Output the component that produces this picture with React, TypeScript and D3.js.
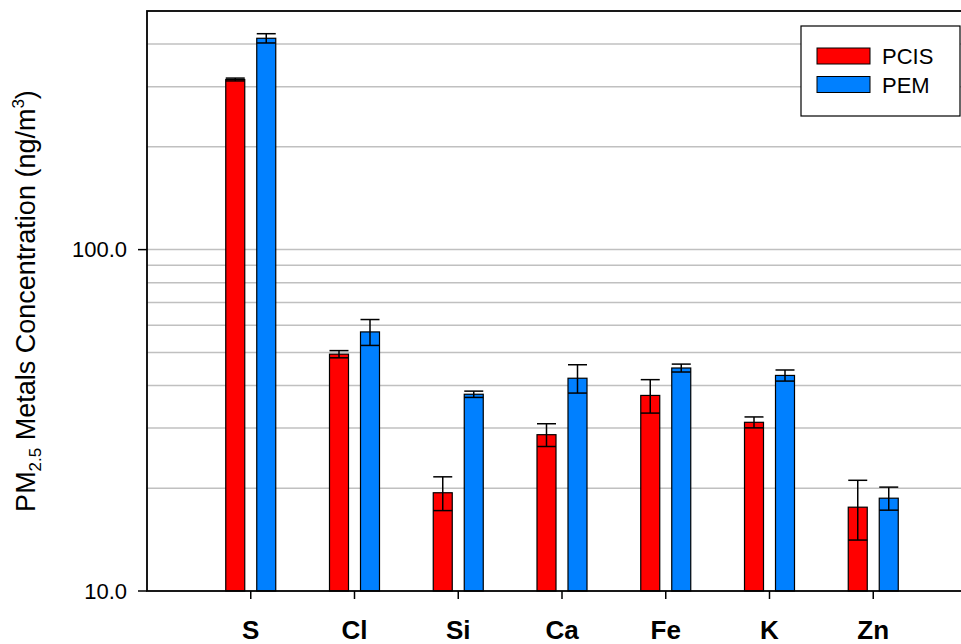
import React from "react";
import * as d3 from "d3";

const categories = ["S", "Cl", "Si", "Ca", "Fe", "K", "Zn"];
const seriesNames = ["PCIS", "PEM"];
const pcisValues = [315, 49.4, 19.4, 28.7, 37.4, 31.2, 17.6];
const pcisErrors = [3, 1.2, 2.2, 2.2, 4.2, 1.15, 3.5];
const pemValues = [416, 57.4, 37.7, 42.0, 45.0, 42.8, 18.7];
const pemErrors = [13, 5, 0.8, 4, 1.2, 1.6, 1.45];
const yTickValues = [10, 100];
const gridValues = [20, 30, 40, 50, 60, 70, 80, 90, 100, 200, 300, 400];
const colors = ["#ff0000", "#0080ff"];

const W = 961;
const H = 644;
const left = 147;
const right = 977;
const top = 11;
const bottom = 591;

export default function App() {
  const y = d3.scaleLog().domain([10, 500]).range([bottom, top]);
  const x = d3.scaleLinear().domain([0, categories.length + 1]).range([left, right]);
  const barW = 19;
  const offset = 15.5;
  const font = "'Liberation Sans', Arial, sans-serif";
  const series = [
    { name: seriesNames[0], values: pcisValues, errors: pcisErrors, color: colors[0], dx: -offset },
    { name: seriesNames[1], values: pemValues, errors: pemErrors, color: colors[1], dx: offset },
  ];
  return (
    <svg width={W} height={H} style={{ position: "absolute", left: 0, top: 0 }} fontFamily={font}>
      <rect width={W} height={H} fill="white" />
      {gridValues.map((g) => (
        <line key={g} x1={left} x2={right} y1={y(g)} y2={y(g)} stroke="#c0c0c0" strokeWidth={1.5} />
      ))}
      {series.map((s) =>
        categories.map((c, i) => {
          const cx = x(i + 1) + s.dx;
          const v = s.values[i];
          const e = s.errors[i];
          return (
            <g key={s.name + c}>
              <rect x={cx - barW / 2} y={y(v)} width={barW} height={bottom - y(v)} fill={s.color} stroke="#000" strokeWidth={1.2} />
              <line x1={cx} x2={cx} y1={y(v + e)} y2={y(v - e)} stroke="#000" strokeWidth={1.5} />
              <line x1={cx - 9.5} x2={cx + 9.5} y1={y(v + e)} y2={y(v + e)} stroke="#000" strokeWidth={1.5} />
              <line x1={cx - 9.5} x2={cx + 9.5} y1={y(v - e)} y2={y(v - e)} stroke="#000" strokeWidth={1.5} />
            </g>
          );
        })
      )}
      {/* frame */}
      <rect x={left} y={top} width={right - left} height={bottom - top} fill="none" stroke="#000" strokeWidth={1.8} />
      {/* y ticks */}
      {yTickValues.map((t) => (
        <g key={t}>
          <line x1={left - 9} x2={left} y1={y(t)} y2={y(t)} stroke="#000" strokeWidth={1.5} />
          <text x={127} y={y(t) + 7.8} textAnchor="end" fontSize={22} fill="#000">
            {t.toFixed(1)}
          </text>
        </g>
      ))}
      {/* x ticks and labels */}
      {categories.map((c, i) => (
        <g key={c}>
          <line x1={x(i + 1)} x2={x(i + 1)} y1={bottom} y2={bottom + 8} stroke="#000" strokeWidth={1.5} />
          <text x={x(i + 1)} y={639} textAnchor="middle" fontSize={26} fontWeight="bold" fill="#000">
            {c}
          </text>
        </g>
      ))}
      {/* y label */}
      <text transform="translate(35,301) rotate(-90)" textAnchor="middle" fontSize={27} fill="#000">
        PM<tspan fontSize={17} dy={6}>2.5</tspan>
        <tspan dy={-6}> Metals Concentration (ng/m</tspan>
        <tspan fontSize={17} dy={-11}>3</tspan>
        <tspan dy={11}>)</tspan>
      </text>
      {/* legend */}
      <rect x={801} y={26} width={159} height={90} fill="white" stroke="#000" strokeWidth={1.2} />
      {series.map((s, i) => (
        <g key={s.name}>
          <rect x={817} y={48 + i * 28.5} width={53} height={16} fill={s.color} stroke="#000" strokeWidth={1} />
          <text x={882} y={64 + i * 29} fontSize={22} fill="#000">
            {s.name}
          </text>
        </g>
      ))}
    </svg>
  );
}
